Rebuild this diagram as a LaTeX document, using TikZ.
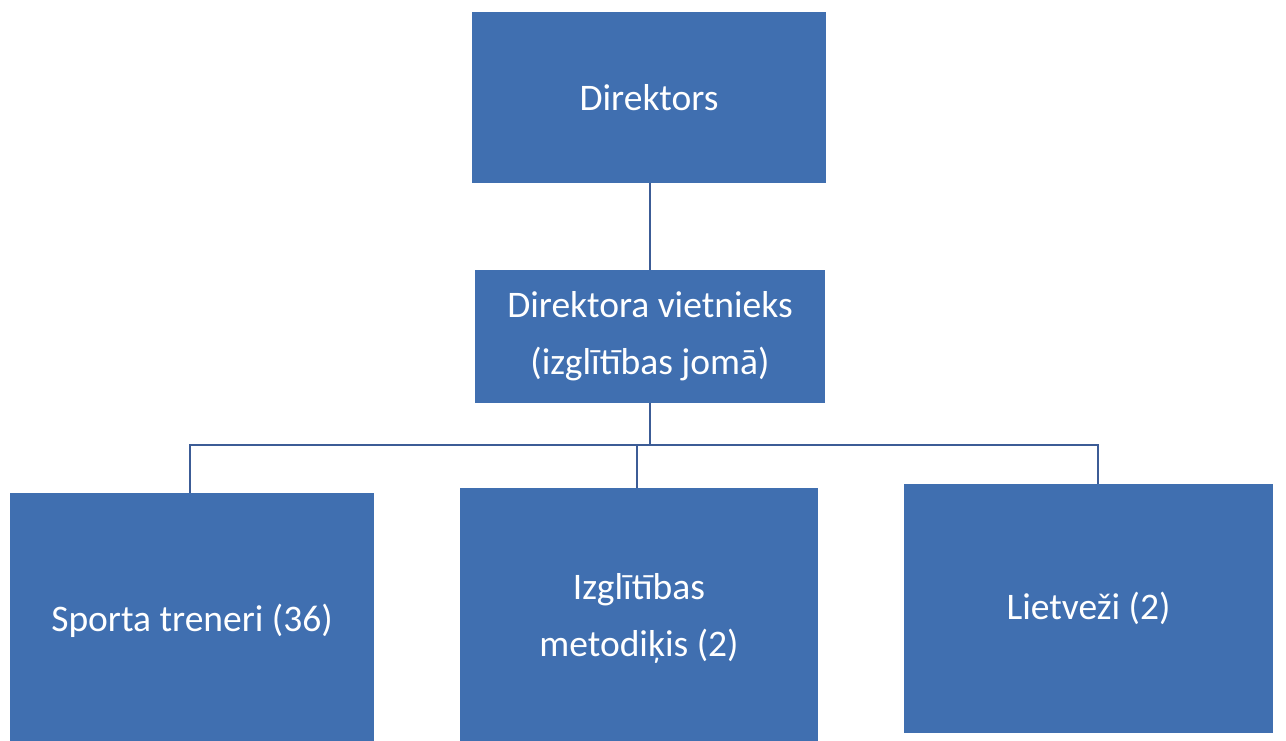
\documentclass[tikz,border=0pt]{standalone}
\usepackage{fontspec}
\setmainfont{Carlito}
\definecolor{boxblue}{RGB}{64,111,176}
\definecolor{lineblue}{RGB}{60,92,150}
\begin{document}
\begin{tikzpicture}[x=1pt,y=-1pt,
  orgbox/.style={draw=none,fill=boxblue,text=white,font=\fontsize{37.5}{57}\selectfont,align=center,inner sep=0pt},
  link/.style={draw=lineblue,line width=2pt}]
\useasboundingbox[fill=white] (0,0) rectangle (1286,741);
\node[orgbox,minimum width=354pt,minimum height=171pt] (dir) at (649,97.5) {Direktors};
\node[orgbox,minimum width=350pt,minimum height=133pt] (vice) at (650,336.5) {Direktora vietnieks\\(izglītības jomā)};
\node[orgbox,minimum width=364pt,minimum height=256pt] (s1) at (192,621) {Sporta treneri (36)};
\node[orgbox,minimum width=358pt,minimum height=260pt] (s2) at (639,618) {Izglītības\\metodiķis (2)};
\node[orgbox,minimum width=369pt,minimum height=249pt] (s3) at (1088.5,608.5) {Lietveži (2)};
\coordinate (bus) at (650,445);
\draw[link] (vice.north) -- (vice.north |- dir.south);
\draw[link] (vice.south) -- (bus);
\draw[link] (bus) -| ([xshift=-2pt]s1.north);
\draw[link] (bus) -| ([xshift=-2pt]s2.north);
\draw[link] (bus) -| ([xshift=9.5pt]s3.north);
\end{tikzpicture}
\end{document}
